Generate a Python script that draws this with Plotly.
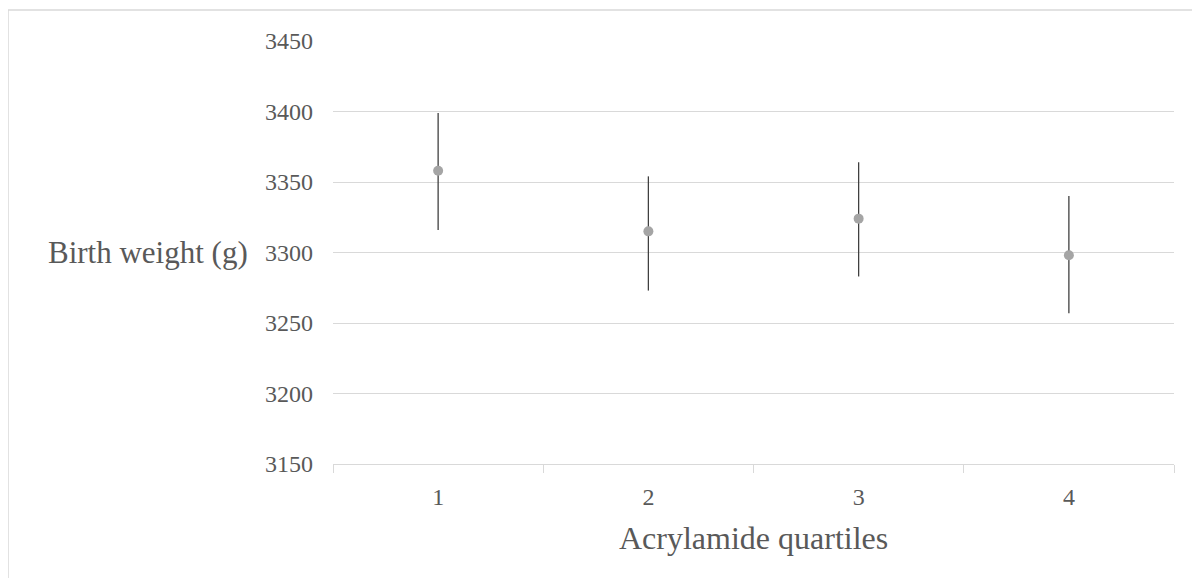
import plotly.graph_objects as go

quartiles = ["1", "2", "3", "4"]
mean_bw = [3358, 3315, 3324, 3298]
lower_ci = [3316, 3273, 3283, 3257]
upper_ci = [3399, 3354, 3364, 3340]
y_ticks = [3150, 3200, 3250, 3300, 3350, 3400, 3450]

err_plus = [u - m for u, m in zip(upper_ci, mean_bw)]
err_minus = [m - l for m, l in zip(mean_bw, lower_ci)]

OFF = 8  # page offset of the figure inside the browser
W, H = 1200 - OFF, 578 - OFF
L, T = 333 - OFF, 41 - OFF
pw, ph = 841, 423
R, B = W - L - pw, H - T - ph

def px(x):
    return (x - OFF - L) / pw

def py(y):
    return (T + ph - (y - OFF)) / ph

fig = go.Figure()
fig.add_trace(go.Scatter(
    x=quartiles, y=mean_bw, mode="markers",
    marker=dict(color="#a5a5a5", size=10),
    error_y=dict(type="data", symmetric=False, array=err_plus, arrayminus=err_minus,
                 color="#404040", thickness=1.3, width=0),
    showlegend=False, hoverinfo="x+y",
))

font_family = "Liberation Serif, Times New Roman, serif"
fig.update_layout(
    width=W, height=H,
    margin=dict(l=L, r=R, t=T, b=B),
    paper_bgcolor="white", plot_bgcolor="white",
    font=dict(family=font_family, color="#595959"),
    xaxis=dict(
        type="category", categoryorder="array", categoryarray=quartiles,
        range=[-0.5, 3.5],
        showgrid=False, showline=True, linecolor="#d9d9d9", linewidth=1.3,
        ticks="outside", tickson="boundaries", ticklen=8, tickcolor="#d9d9d9", tickwidth=1.3,
        tickfont=dict(size=24, color="#595959", family=font_family),
        ticklabelstandoff=11,
        zeroline=False,
    ),
    yaxis=dict(
        range=[3150, 3450], tickvals=y_ticks,
        showgrid=True, gridcolor="#d9d9d9", gridwidth=1.2,
        showline=False, zeroline=False, ticks="",
        tickfont=dict(size=24, color="#595959", family=font_family),
        ticklabelstandoff=19,
    ),
    shapes=[
        dict(type="line", xref="paper", yref="paper", x0=px(8), x1=px(1210), y0=py(10), y1=py(10),
             line=dict(color="#d9d9d9", width=1.5)),
        dict(type="line", xref="paper", yref="paper", x0=px(8), x1=px(8), y0=py(10), y1=py(590),
             line=dict(color="#d9d9d9", width=1.5)),
    ],
    annotations=[
        dict(text="Birth weight (g)", xref="paper", yref="paper", x=px(250), y=py(252),
             xanchor="right", yanchor="middle", showarrow=False,
             font=dict(size=31, color="#595959", family=font_family)),
        dict(text="Acrylamide quartiles", xref="paper", yref="paper", x=px(753), y=py(538),
             xanchor="center", yanchor="middle", showarrow=False,
             font=dict(size=32, color="#595959", family=font_family)),
    ],
)

fig.write_html("out.html")
